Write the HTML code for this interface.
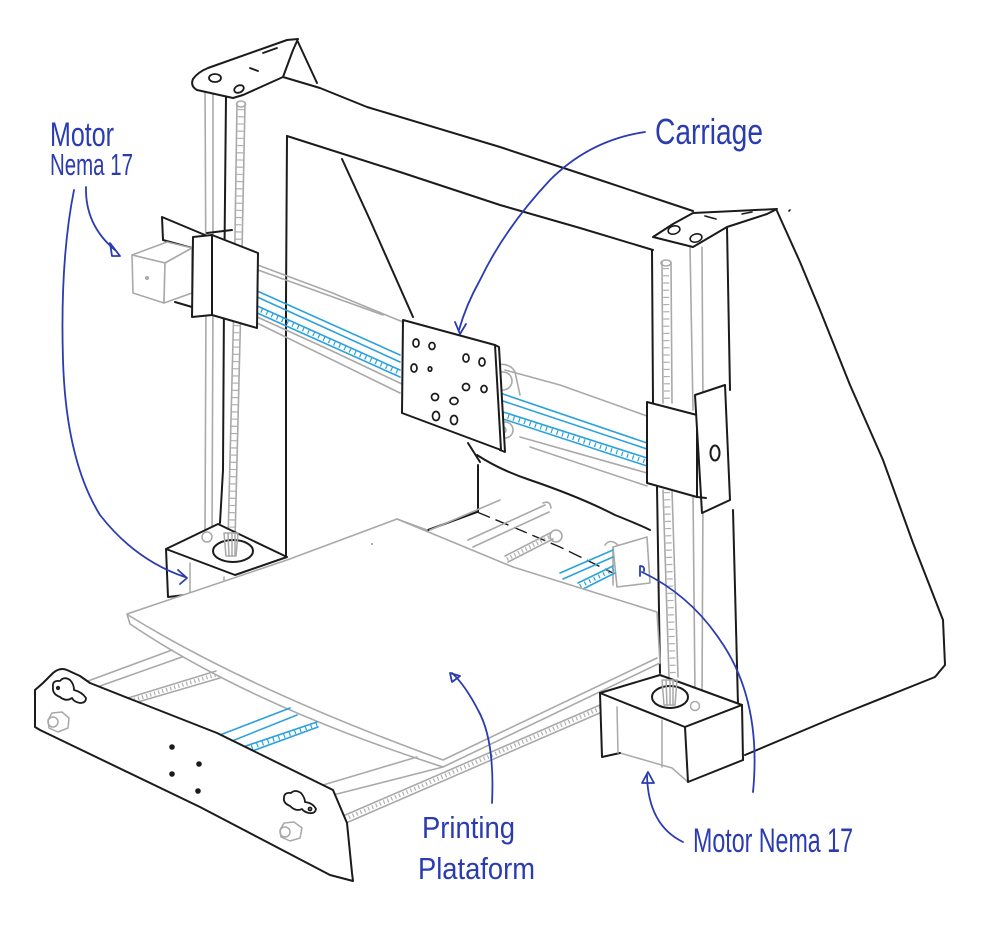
<!DOCTYPE html>
<html><head><meta charset="utf-8">
<style>html,body{margin:0;padding:0;background:#fff}svg{display:block}</style>
</head>
<body>
<svg width="995" height="926" viewBox="0 0 995 926" xmlns="http://www.w3.org/2000/svg">
<rect width="995" height="926" fill="#fff"/>
<g fill="none" stroke-linecap="round" stroke-linejoin="round">

<!-- ===== Back / frame black lines ===== -->
<g stroke="#1b1b1b" stroke-width="2">
  <path d="M777,211 L800,262 L820,310 L850,385 L883,460 L913,543 L943,620 L945,665 L935,677 L840,715 L745,755"/>
  <path d="M298,42 L317,83"/>
  <path d="M283,77 L320,88 L367,107 L500,147 L600,180 L693,211"/>
  <path d="M287,136 L400,172 L500,205 L580,228 L653,250"/>
  <path d="M287,136 L286,300 L286,557"/>
  <path d="M342,159 L370,220 L413,317"/>
  <path d="M468,443 L480,462"/>
  <path d="M478,465 L478,512"/>
  <path d="M428,530 L477,512"/>
  <path d="M477,455 Q500,470 530,480 Q580,497 615,515 Q640,525 650,530"/>
</g>
<path d="M477,512 L513,527 L560,547 L613,573" stroke="#1b1b1b" stroke-width="1.4" stroke-dasharray="14 6" stroke-linecap="butt"/>

<!-- ===== rear Y stuff (gray) ===== -->
<g stroke="#a9a9a9" stroke-width="1.6">
  <path d="M468,540 L545,505"/>
  <path d="M473,547 L549,512"/>
  <path d="M543,503 Q550,500 551,508"/>
  <path d="M505,556 L550,533"/>
  <path d="M508,562 L553,539"/>
  <circle cx="556" cy="536" r="6"/>
  <path d="M613,547 L647,537 L650,583 L617,587 Z"/>
  <path d="M605,545 Q610,538 618,545"/>
  <path d="M613,547 L613,585"/>
  <path d="M430,530 L500,500"/>
</g>
<path d="M507,559 L551,536" stroke="#b0b0b0" stroke-width="4" stroke-dasharray="1.2 3" stroke-linecap="butt"/>
<g stroke="#2ba2dd" stroke-width="1.6">
  <path d="M560,573 L613,550"/>
  <path d="M563,579 L613,557"/>
  <path d="M578,583 L613,566"/>
  <path d="M583,589 L615,573"/>
</g>
<path d="M580,586 L614,569" stroke="#2ba2dd" stroke-width="4" stroke-dasharray="1.2 4" stroke-linecap="butt"/>

<!-- ===== right column ===== -->
<g stroke="#1b1b1b" stroke-width="2">
  <path d="M652,250 L653,403"/>
  <path d="M657,487 L660,673"/>
  <path d="M727,227 L730,390"/>
  <path d="M733,510 L738,705 L743,760"/>
</g>
<g stroke="#a9a9a9" stroke-width="1.6">
  <path d="M690,247 L693,410"/>
  <path d="M702,247 L703,410"/>
  <path d="M693,493 L695,695"/>
  <path d="M703,493 L702,700"/>
  <path d="M662,262 L663,403"/>
  <path d="M671,262 L672,403"/>
  <path d="M663,490 L669,677"/>
  <path d="M672,490 L678,677"/>
  <ellipse cx="666" cy="263" rx="5" ry="3"/>
</g>
<path d="M666,268 L667,402 M667,492 L673,676" stroke="#b0b0b0" stroke-width="6" stroke-dasharray="1.2 6" stroke-linecap="butt"/>

<!-- ===== X axis rails ===== -->
<g stroke="#a9a9a9" stroke-width="1.6">
  <path d="M255,264 L330,292 L403,322"/>
  <path d="M258,270 L383,315"/>
  <path d="M255,316 L330,350 L402,384"/>
  <path d="M255,322 L400,393"/>
  <path d="M505,370 L560,385 L647,416"/>
  <path d="M520,437 L647,473"/>
  <path d="M530,447 L647,486"/>
  <circle cx="503" cy="381" r="9"/>
  <circle cx="505" cy="430" r="8"/>
  <circle cx="503" cy="430" r="3"/>
  <path d="M495,365 Q510,362 515,372 L520,395"/>
</g>
<g stroke="#2ba2dd" stroke-width="1.6">
  <path d="M255,290 L400,355"/>
  <path d="M255,296 L400,362"/>
  <path d="M255,305 L400,370"/>
  <path d="M255,312 L400,377"/>
  <path d="M500,393 L647,443"/>
  <path d="M500,400 L647,449"/>
  <path d="M497,410 L647,458"/>
  <path d="M497,417 L647,466"/>
</g>
<path d="M256,308 L400,373 M497,413 L647,462" stroke="#2ba2dd" stroke-width="4.5" stroke-dasharray="1.2 4.5" stroke-linecap="butt"/>

<!-- ===== carriage ===== -->
<path d="M495,345 L499,347 L505,452 L500,450" fill="#fff" stroke="#1b1b1b" stroke-width="2"/>
<path d="M403,320 L495,345 L501,450 L402,413 Z" fill="#fff" stroke="#1b1b1b" stroke-width="2"/>
<g stroke="#1b1b1b" stroke-width="1.7">
  <ellipse cx="416" cy="343" rx="3" ry="4"/>
  <ellipse cx="432" cy="346" rx="3" ry="3.5"/>
  <ellipse cx="414" cy="368" rx="3" ry="4"/>
  <ellipse cx="430" cy="369" rx="1.8" ry="2.2"/>
  <ellipse cx="466" cy="358" rx="3" ry="4"/>
  <ellipse cx="482" cy="362" rx="3" ry="4"/>
  <ellipse cx="466" cy="387" rx="3.5" ry="3.5"/>
  <ellipse cx="484" cy="389" rx="3" ry="3.5"/>
  <ellipse cx="435" cy="397" rx="3.5" ry="3.5"/>
  <ellipse cx="454" cy="401" rx="4" ry="3.5"/>
  <ellipse cx="436" cy="416" rx="3.5" ry="4.5"/>
  <ellipse cx="454" cy="420" rx="3.5" ry="4.5"/>
</g>

<!-- ===== left column ===== -->
<g stroke="#a9a9a9" stroke-width="1.6">
  <path d="M205,80 L206,300 L205,540"/>
  <path d="M213,82 L213,300 L212,540"/>
  <path d="M237,104 L234,300 L228,540"/>
  <path d="M245,104 L241,300 L235,540"/>
  <ellipse cx="241" cy="104" rx="4.5" ry="3"/>
</g>
<path d="M241,109 L237,300 L232,538" stroke="#b0b0b0" stroke-width="6" stroke-dasharray="1.2 6" stroke-linecap="butt"/>
<path d="M226,97 L224,300 L223,470 L220,523" stroke="#1b1b1b" stroke-width="2"/>

<!-- left top bracket -->
<path d="M197,90 Q190,86 193,79 Q198,72 208,68 L287,40 L298,39 L293,50 L283,77 L243,95 L233,98 Z" fill="#fff" stroke="#1b1b1b" stroke-width="2"/>
<g stroke="#1b1b1b" stroke-width="1.8">
  <ellipse cx="215" cy="78" rx="6" ry="4"/>
  <ellipse cx="239" cy="89" rx="5" ry="3.5" transform="rotate(-25 239 89)"/>
  <path d="M263,53 L277,48"/>
  <path d="M250,68 L258,71"/>
</g>

<!-- left X motor -->
<g stroke="#1b1b1b" stroke-width="2" fill="#fff">
  <path d="M162,217 L163,240 L192,248 L205,235 Z"/>
  <path d="M175,302 L192,307"/>
</g>
<g stroke="#a9a9a9" stroke-width="1.6" fill="#fff">
  <path d="M132,255 L167,242 L192,248 L165,263 Z"/>
  <path d="M132,255 L165,263 L164,303 L133,293 Z"/>
  <path d="M165,263 L192,248 L192,293 L164,303 Z"/>
</g>
<circle cx="147" cy="278" r="2" fill="#a9a9a9"/>
<g stroke="#1b1b1b" stroke-width="2" fill="#fff">
  <path d="M193,237 L212,235 L212,315 L192,317 Z"/>
  <path d="M212,235 L258,253 L257,328 L212,315 Z"/>
  <path d="M207,233 L232,230"/>
</g>

<!-- right column plates -->
<g stroke="#1b1b1b" stroke-width="2" fill="#fff">
  <path d="M647,402 L697,415 L697,497 L647,483 Z"/>
  <path d="M695,395 L725,385 L730,500 L702,513 Z"/>
  <ellipse cx="715" cy="453" rx="4.5" ry="7.5"/>
  <path d="M697,497 L706,498"/>
</g>

<!-- right top bracket -->
<path d="M653,237 L673,224 L693,213 L735,211 L777,209 L767,214 L727,227 L693,247 Z" fill="#fff" stroke="#1b1b1b" stroke-width="2"/>
<g stroke="#1b1b1b" stroke-width="1.6">
  <ellipse cx="674" cy="230" rx="6" ry="4" transform="rotate(-15 674 230)"/>
  <ellipse cx="696" cy="238" rx="6" ry="4" transform="rotate(-15 696 238)"/>
  <path d="M705,216 L716,219"/>
  <path d="M742,214 L752,212"/>
  <path d="M789,211 L790,210"/>
</g>

<!-- left Z base -->
<g stroke="#1b1b1b" stroke-width="2" fill="#fff">
  <path d="M166,549 L218,524 L287,557 L235,575 Z"/>
  <path d="M166,549 L168,597 L185,595"/>
  <ellipse cx="233" cy="551" rx="20" ry="11"/>
</g>
<g stroke="#a9a9a9" stroke-width="1.5">
  <path d="M190,563 L190,594"/>
  <path d="M224,577 L224,592"/>
  <circle cx="207" cy="537" r="5"/>
  <path d="M224,533 L226,556 L236,556 L238,533 Z"/>
  <path d="M228,533 L229,556 M232,533 L232,556 M235,533 L235,556"/>
</g>

<!-- ===== printing platform ===== -->
<path d="M127,614 L287,560 L397,519 L513,567 L657,612 L660,663 L443,767 Q250,705 130,624 Z" fill="#fff" stroke="#a9a9a9" stroke-width="1.6"/>
<g stroke="#a9a9a9" stroke-width="1.6">
  <path d="M128,615 Q250,690 443,760 L657,658"/>
  <path d="M397,519 L427,530"/>
</g>
<circle cx="372" cy="544" r="1" fill="#999"/>

<!-- Y rails -->
<g stroke="#a9a9a9" stroke-width="1.6">
  <path d="M88,681 L172,650"/>
  <path d="M100,686 L182,657"/>
  <path d="M128,698 L216,671"/>
  <path d="M131,704 L220,678"/>
  <path d="M323,785 L417,757"/>
  <path d="M333,795 L443,767"/>
  <path d="M343,816 L600,705"/>
  <path d="M346,823 L602,712"/>
</g>
<path d="M130,701 L218,674 M345,819 L601,708" stroke="#b0b0b0" stroke-width="4" stroke-dasharray="1.2 3" stroke-linecap="butt"/>
<g stroke="#2ba2dd" stroke-width="1.6">
  <path d="M207,740 L290,708"/>
  <path d="M217,747 L297,715"/>
  <path d="M228,752 L317,722"/>
  <path d="M233,758 L318,727"/>
</g>
<path d="M230,755 L317,724" stroke="#2ba2dd" stroke-width="4.5" stroke-dasharray="1.2 4.5" stroke-linecap="butt"/>

<!-- ===== right Z motor ===== -->
<g stroke="#a9a9a9" stroke-width="1.5" fill="#fff">
  <path d="M600,693 L685,727 L688,782 L672,768 L620,753 L602,757 Z"/>
</g>
<g stroke="#1b1b1b" stroke-width="2" fill="#fff">
  <path d="M600,693 L660,675 L742,705 L685,727 Z"/>
  <path d="M685,727 L742,705 L743,760 L688,782 Z"/>
  <path d="M600,693 L602,757 L620,753"/>
  <ellipse cx="670" cy="697" rx="18" ry="11"/>
</g>
<g stroke="#a9a9a9" stroke-width="1.5">
  <path d="M617,707 L618,753"/>
  <path d="M662,720 L662,767"/>
  <path d="M662,680 L664,705 L675,705 L677,680 Z"/>
  <path d="M666,680 L667,705 M670,680 L670,705 M673,680 L673,705"/>
  <circle cx="695" cy="706" r="4.5"/>
</g>

<!-- ===== front frame plate ===== -->
<path d="M35,727 L35,690 L43,683 L53,673 Q60,667 67,670 L80,676 L90,683 L133,700 L217,733 L333,790 L347,823 L352,873 L353,881 L330,875 L200,807 L40,730 Z" fill="#fff" stroke="#1b1b1b" stroke-width="2"/>
<g fill="#1b1b1b">
  <circle cx="172" cy="747" r="2.8"/>
  <circle cx="199" cy="764" r="2.8"/>
  <circle cx="172" cy="774" r="2.8"/>
  <circle cx="198" cy="791" r="2.8"/>
</g>
<g stroke="#1b1b1b" stroke-width="1.8">
  <path d="M53,687 Q52,680 60,681 Q64,676 70,680 Q74,684 74,690 Q82,692 86,698 Q86,703 80,703 Q74,702 72,698 Q66,702 60,697 Q52,694 53,687 Z"/>
  <path d="M284,798 Q284,792 291,793 Q295,789 301,793 Q305,798 305,802 Q313,803 316,809 Q315,814 309,813 Q304,812 302,809 Q296,812 290,806 Q283,803 284,798 Z"/>
  <circle cx="58" cy="688" r="1.2"/>
  <circle cx="310" cy="809" r="1.5"/>
</g>
<g stroke="#a9a9a9" stroke-width="1.5">
  <path d="M48,720 L52,713 L62,712 L69,718 L68,728 L58,732 L49,728 Z"/>
  <circle cx="53" cy="722" r="5"/>
  <path d="M280,830 L284,823 L294,822 L302,828 L300,838 L290,841 L281,837 Z"/>
  <circle cx="285" cy="832" r="5"/>
</g>

</g>

<!-- ===== annotations (blue) ===== -->
<g fill="none" stroke="#2a3cb0" stroke-width="1.8" stroke-linecap="round" stroke-linejoin="round">
  <path d="M86,187 Q85,225 115,250"/>
  <path d="M110,243 L120,256 L112,256 Z"/>
  <path d="M74,190 Q60,260 63,360 Q66,460 100,515 Q135,560 185,577"/>
  <path d="M178,570 L187,578 L180,584"/>
  <path d="M645,132 Q590,140 550,180 Q505,228 480,280 Q466,305 459,330"/>
  <path d="M455,322 L460,334 L466,324"/>
  <path d="M492,803 Q495,740 478,710 Q465,685 452,673"/>
  <path d="M450,673 L460,676 L452,682 Z"/>
  <path d="M683,842 Q648,825 647,775"/>
  <path d="M642,783 L648,772 L654,783 Z"/>
  <path d="M753,792 Q762,700 720,640 Q690,595 642,572"/>
  <path d="M640,566 L640,576 M640,566 Q645,566 644,571"/>
</g>
<g fill="#2a3cb0" font-family="'Liberation Sans', sans-serif" font-weight="400">
  <text x="50" y="146" font-size="34" textLength="64" lengthAdjust="spacingAndGlyphs">Motor</text>
  <text x="50" y="175" font-size="31" textLength="83" lengthAdjust="spacingAndGlyphs">Nema 17</text>
  <text x="655" y="144" font-size="36" textLength="108" lengthAdjust="spacingAndGlyphs">Carriage</text>
  <text x="422" y="838" font-size="31" textLength="93" lengthAdjust="spacingAndGlyphs">Printing</text>
  <text x="418" y="879" font-size="31" textLength="117" lengthAdjust="spacingAndGlyphs">Plataform</text>
  <text x="693" y="852" font-size="34" textLength="160" lengthAdjust="spacingAndGlyphs">Motor Nema 17</text>
</g>
</svg>
</body>
</html>
